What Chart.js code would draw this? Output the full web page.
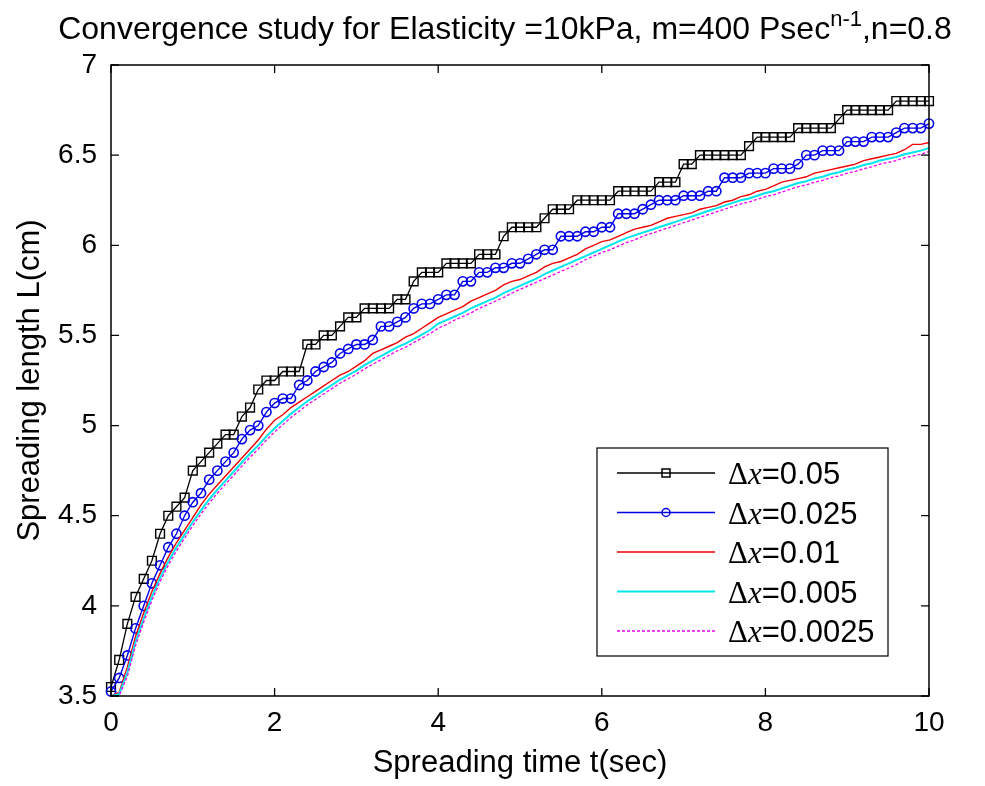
<!DOCTYPE html>
<html>
<head>
<meta charset="utf-8">
<script src="https://cdn.jsdelivr.net/npm/chart.js@4"></script>
<style>
html, body { margin: 0; padding: 0; background: #fff; }
</style>
</head>
<body>
<canvas id="lineChart" width="985" height="786"></canvas>
<script>
// spreading time t (sec), sampled every 0.1 s
const times = [
    0, 0.1, 0.2, 0.3, 0.4, 0.5, 0.6, 0.7, 0.8, 0.9,
    1, 1.1, 1.2, 1.3, 1.4, 1.5, 1.6, 1.7, 1.8, 1.9,
    2, 2.1, 2.2, 2.3, 2.4, 2.5, 2.6, 2.7, 2.8, 2.9,
    3, 3.1, 3.2, 3.3, 3.4, 3.5, 3.6, 3.7, 3.8, 3.9,
    4, 4.1, 4.2, 4.3, 4.4, 4.5, 4.6, 4.7, 4.8, 4.9,
    5, 5.1, 5.2, 5.3, 5.4, 5.5, 5.6, 5.7, 5.8, 5.9,
    6, 6.1, 6.2, 6.3, 6.4, 6.5, 6.6, 6.7, 6.8, 6.9,
    7, 7.1, 7.2, 7.3, 7.4, 7.5, 7.6, 7.7, 7.8, 7.9,
    8, 8.1, 8.2, 8.3, 8.4, 8.5, 8.6, 8.7, 8.8, 8.9,
    9, 9.1, 9.2, 9.3, 9.4, 9.5, 9.6, 9.7, 9.8, 9.9,
    10
]

// spreading length L (cm) for each grid size
const dx0050 = [
    3.55, 3.7, 3.9, 4.05, 4.15, 4.25, 4.4, 4.5, 4.55, 4.6,
    4.75, 4.8, 4.85, 4.9, 4.95, 4.95, 5.05, 5.1, 5.2, 5.25,
    5.25, 5.3, 5.3, 5.3, 5.45, 5.45, 5.5, 5.5, 5.55, 5.6,
    5.6, 5.65, 5.65, 5.65, 5.65, 5.7, 5.7, 5.8, 5.85, 5.85,
    5.85, 5.9, 5.9, 5.9, 5.9, 5.95, 5.95, 5.95, 6.05, 6.1,
    6.1, 6.1, 6.1, 6.15, 6.2, 6.2, 6.2, 6.25, 6.25, 6.25,
    6.25, 6.25, 6.3, 6.3, 6.3, 6.3, 6.3, 6.35, 6.35, 6.35,
    6.45, 6.45, 6.5, 6.5, 6.5, 6.5, 6.5, 6.5, 6.55, 6.6,
    6.6, 6.6, 6.6, 6.6, 6.65, 6.65, 6.65, 6.65, 6.65, 6.7,
    6.75, 6.75, 6.75, 6.75, 6.75, 6.75, 6.8, 6.8, 6.8, 6.8,
    6.8
]
const dx0025 = [
    3.525, 3.6, 3.725, 3.875, 4.0, 4.125, 4.225, 4.325, 4.4, 4.5,
    4.575, 4.625, 4.7, 4.75, 4.8, 4.85, 4.925, 4.975, 5.0, 5.075,
    5.125, 5.15, 5.15, 5.225, 5.25, 5.3, 5.325, 5.35, 5.4, 5.425,
    5.45, 5.45, 5.475, 5.55, 5.55, 5.575, 5.6, 5.65, 5.675, 5.675,
    5.7, 5.725, 5.725, 5.8, 5.8, 5.85, 5.85, 5.875, 5.875, 5.9,
    5.9, 5.925, 5.95, 5.975, 5.975, 6.05, 6.05, 6.05, 6.075, 6.075,
    6.1, 6.1, 6.175, 6.175, 6.175, 6.2, 6.225, 6.25, 6.25, 6.25,
    6.275, 6.275, 6.275, 6.3, 6.3, 6.375, 6.375, 6.375, 6.4, 6.4,
    6.4, 6.425, 6.425, 6.425, 6.45, 6.5, 6.5, 6.525, 6.525, 6.525,
    6.575, 6.575, 6.575, 6.6, 6.6, 6.6, 6.625, 6.65, 6.65, 6.65,
    6.675
]
const dx0010 = [
    3.5, 3.52, 3.66, 3.83, 3.96, 4.08, 4.18, 4.27, 4.35, 4.42,
    4.49, 4.56, 4.62, 4.67, 4.72, 4.77, 4.82, 4.87, 4.92, 4.98,
    5.03, 5.06, 5.1, 5.13, 5.16, 5.19, 5.22, 5.25, 5.28, 5.3,
    5.33, 5.36, 5.4, 5.42, 5.44, 5.46, 5.49, 5.51, 5.54, 5.57,
    5.6, 5.62, 5.64, 5.66, 5.69, 5.71, 5.73, 5.75, 5.78, 5.8,
    5.81, 5.83, 5.85, 5.88, 5.9, 5.91, 5.93, 5.95, 5.98, 6.0,
    6.02, 6.03, 6.05, 6.07, 6.09, 6.1, 6.11, 6.13, 6.15, 6.16,
    6.17, 6.18, 6.2, 6.21, 6.22, 6.24, 6.25, 6.27, 6.28, 6.3,
    6.31, 6.33, 6.35, 6.36, 6.37, 6.38, 6.4, 6.41, 6.42, 6.43,
    6.44, 6.45, 6.47, 6.48, 6.49, 6.5, 6.51, 6.53, 6.56, 6.56,
    6.57
]
const dx0005 = [
    3.5, 3.51, 3.63, 3.8, 3.93, 4.05, 4.155, 4.245, 4.325, 4.395,
    4.465, 4.53, 4.59, 4.645, 4.695, 4.745, 4.795, 4.845, 4.89, 4.94,
    4.985, 5.025, 5.065, 5.1, 5.135, 5.165, 5.195, 5.225, 5.255, 5.28,
    5.305, 5.335, 5.36, 5.385, 5.41, 5.435, 5.455, 5.48, 5.505, 5.53,
    5.565, 5.585, 5.605, 5.625, 5.65, 5.67, 5.69, 5.71, 5.735, 5.755,
    5.775, 5.795, 5.815, 5.84, 5.86, 5.88, 5.9, 5.92, 5.94, 5.96,
    5.98, 6.0, 6.02, 6.04, 6.055, 6.07, 6.085, 6.1, 6.115, 6.13,
    6.145, 6.16, 6.175, 6.19, 6.205, 6.22, 6.235, 6.25, 6.26, 6.275,
    6.29, 6.3, 6.315, 6.33, 6.345, 6.355, 6.37, 6.38, 6.395, 6.405,
    6.42, 6.43, 6.445, 6.455, 6.47, 6.48, 6.49, 6.505, 6.515, 6.525,
    6.54
]
const dx00025 = [
    3.5, 3.5, 3.61, 3.78, 3.91, 4.03, 4.135, 4.225, 4.305, 4.375,
    4.445, 4.51, 4.57, 4.625, 4.675, 4.725, 4.775, 4.825, 4.87, 4.92,
    4.965, 5.005, 5.045, 5.08, 5.115, 5.145, 5.175, 5.205, 5.235, 5.26,
    5.285, 5.315, 5.34, 5.365, 5.39, 5.415, 5.435, 5.46, 5.485, 5.51,
    5.54, 5.56, 5.585, 5.605, 5.625, 5.65, 5.67, 5.69, 5.71, 5.735,
    5.755, 5.775, 5.795, 5.815, 5.835, 5.855, 5.875, 5.895, 5.92, 5.94,
    5.96, 5.975, 5.995, 6.015, 6.03, 6.05, 6.065, 6.08, 6.095, 6.11,
    6.125, 6.14, 6.155, 6.17, 6.185, 6.2, 6.215, 6.23, 6.24, 6.255,
    6.27, 6.28, 6.295, 6.31, 6.325, 6.335, 6.35, 6.36, 6.375, 6.385,
    6.4, 6.41, 6.425, 6.435, 6.45, 6.46, 6.47, 6.485, 6.495, 6.505,
    6.52
]

const seriesLabels = ['0.05', '0.025', '0.01', '0.005', '0.0025']
const xTicks = [0, 2, 4, 6, 8, 10]
const yTicks = [3.5, 4, 4.5, 5, 5.5, 6, 6.5, 7]

const SANS = "'Liberation Sans', Arial, sans-serif"
const SERIF = "'Liberation Serif', 'Times New Roman', serif"

const toPoints = (values) => values.map((v, i) => ({x: times[i], y: v}))

const COLORS = {
    black: 'rgb(0, 0, 0)',
    blue: 'rgb(0, 0, 235)',
    red: 'rgb(240, 0, 0)',
    cyan: 'rgb(0, 230, 235)',
    magenta: 'rgb(240, 0, 240)',
}

// box, inward ticks, title with superscript and the legend, drawn the MATLAB way
const matlabPlugin = {
    id: 'matlabLook',
    afterDatasetsDraw(chart) {
        const {ctx, chartArea: a, scales: {x, y}} = chart
        ctx.save()
        ctx.strokeStyle = '#000'
        ctx.lineWidth = 1.5
        ctx.strokeRect(a.left, a.top, a.right - a.left, a.bottom - a.top)
        ctx.lineWidth = 1.3
        ctx.beginPath()
        xTicks.forEach(v => {
            const px = x.getPixelForValue(v)
            ctx.moveTo(px, a.bottom); ctx.lineTo(px, a.bottom - 8)
            ctx.moveTo(px, a.top); ctx.lineTo(px, a.top + 8)
        })
        yTicks.forEach(v => {
            const py = y.getPixelForValue(v)
            ctx.moveTo(a.left, py); ctx.lineTo(a.left + 8, py)
            ctx.moveTo(a.right, py); ctx.lineTo(a.right - 8, py)
        })
        ctx.stroke()

        // title
        const main = 'Convergence study for Elasticity =10kPa, m=400 Psec'
        const sup = 'n-1'
        const tail = ',n=0.8'
        ctx.fillStyle = '#000'
        ctx.textBaseline = 'alphabetic'
        ctx.textAlign = 'left'
        ctx.font = '32px ' + SANS
        const wMain = ctx.measureText(main).width
        const wTail = ctx.measureText(tail).width
        ctx.font = '22px ' + SANS
        const wSup = ctx.measureText(sup).width
        let tx = 505 - (wMain + wSup + wTail) / 2
        const ty = 39
        ctx.font = '32px ' + SANS
        ctx.fillText(main, tx, ty)
        tx += wMain
        ctx.font = '22px ' + SANS
        ctx.fillText(sup, tx, ty - 13)
        tx += wSup
        ctx.font = '32px ' + SANS
        ctx.fillText(tail, tx, ty)

        // legend
        const box = {left: 597, top: 448, width: 291, height: 208}
        ctx.fillStyle = '#fff'
        ctx.fillRect(box.left, box.top, box.width, box.height)
        ctx.strokeStyle = '#000'
        ctx.lineWidth = 1.2
        ctx.strokeRect(box.left, box.top, box.width, box.height)
        chart.data.datasets.forEach((ds, i) => {
            const ry = 473 + i * 39.5
            ctx.strokeStyle = ds.borderColor
            ctx.lineWidth = ds.borderWidth
            ctx.setLineDash(ds.borderDash || [])
            ctx.beginPath()
            ctx.moveTo(617, ry); ctx.lineTo(715, ry)
            ctx.stroke()
            ctx.setLineDash([])
            if (ds.pointRadius > 0) {
                ctx.lineWidth = 1.5
                ctx.beginPath()
                if (ds.pointStyle === 'rect') {
                    ctx.rect(666 - 4, ry - 4, 8, 8)
                } else {
                    ctx.arc(666, ry, 4, 0, Math.PI * 2)
                }
                ctx.stroke()
            }
            ctx.fillStyle = '#000'
            let lx = 728
            const by = ry + 11
            ctx.font = '31px ' + SERIF
            ctx.fillText('\u0394', lx, by)
            lx += ctx.measureText('\u0394').width
            ctx.font = 'italic 31px ' + SERIF
            ctx.fillText('x', lx, by)
            lx += ctx.measureText('x').width
            ctx.font = '31px ' + SANS
            ctx.fillText('=' + seriesLabels[i], lx, by)
        })
        ctx.restore()
    }
}

const CHART = document.getElementById('lineChart')
const lineChart = new Chart(CHART, {
    type: 'line',
    data: {
        datasets: [
            {
                label: '\u0394x=' + seriesLabels[0],
                data: toPoints(dx0050),
                borderColor: COLORS.black,
                borderWidth: 1.3,
                pointStyle: 'rect',
                pointRadius: 6.2,
                pointBorderWidth: 1.4,
                pointBackgroundColor: 'transparent',
                pointBorderColor: COLORS.black,
                order: 5,
            },
            {
                label: '\u0394x=' + seriesLabels[1],
                data: toPoints(dx0025),
                borderColor: COLORS.blue,
                borderWidth: 1.4,
                pointStyle: 'circle',
                pointRadius: 4.6,
                pointBorderWidth: 1.6,
                pointBackgroundColor: 'transparent',
                pointBorderColor: COLORS.blue,
                order: 4,
            },
            {
                label: '\u0394x=' + seriesLabels[2],
                data: toPoints(dx0010),
                borderColor: COLORS.red,
                borderWidth: 1.4,
                pointRadius: 0,
                order: 3,
            },
            {
                label: '\u0394x=' + seriesLabels[3],
                data: toPoints(dx0005),
                borderColor: COLORS.cyan,
                borderWidth: 2,
                pointRadius: 0,
                order: 2,
            },
            {
                label: '\u0394x=' + seriesLabels[4],
                data: toPoints(dx00025),
                borderColor: COLORS.magenta,
                borderWidth: 1.3,
                borderDash: [3, 2],
                pointRadius: 0,
                order: 1,
            },
        ]
    },
    options: {
        responsive: false,
        animation: false,
        clip: 12,
        layout: {
            padding: {top: 65, right: 56, left: 0, bottom: 0}
        },
        elements: {
            line: {tension: 0}
        },
        scales: {
            x: {
                type: 'linear',
                min: 0,
                max: 10,
                afterFit(scale) { scale.height = 90 },
                grid: {display: false, drawTicks: false},
                border: {display: false},
                ticks: {
                    stepSize: 2,
                    padding: 10,
                    color: '#000',
                    font: {family: SANS, size: 28},
                },
                title: {
                    display: true,
                    text: 'Spreading time t(sec)',
                    color: '#000',
                    font: {family: SANS, size: 31},
                    padding: {top: 4, bottom: 4},
                },
            },
            y: {
                type: 'linear',
                min: 3.5,
                max: 7,
                afterFit(scale) { scale.width = 111 },
                grid: {display: false, drawTicks: false},
                border: {display: false},
                ticks: {
                    stepSize: 0.5,
                    padding: 14,
                    color: '#000',
                    font: {family: SANS, size: 28},
                    callback: (v) => String(v),
                },
                title: {
                    display: true,
                    text: 'Spreading length L(cm)',
                    color: '#000',
                    font: {family: SANS, size: 31},
                    padding: {top: 12, bottom: 4},
                },
            }
        },
        plugins: {
            legend: {display: false},
            title: {display: false},
            tooltip: {enabled: false},
        }
    },
    plugins: [matlabPlugin]
})
</script>
</body>
</html>
